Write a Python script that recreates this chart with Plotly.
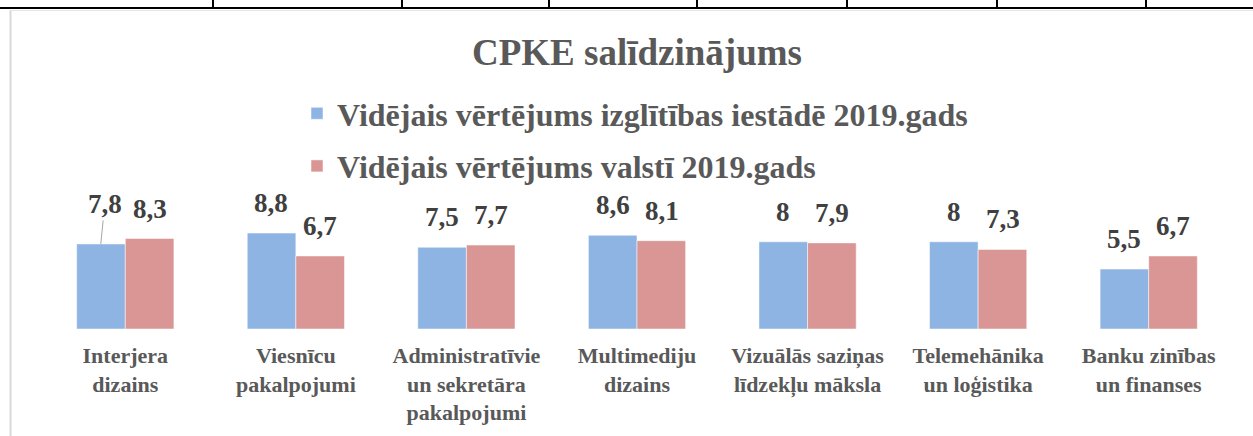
import plotly.graph_objects as go

categories = [
    "Interjera<br>dizains",
    "Viesnīcu<br>pakalpojumi",
    "Administratīvie<br>un sekretāra<br>pakalpojumi",
    "Multimediju<br>dizains",
    "Vizuālās saziņas<br>līdzekļu māksla",
    "Telemehānika<br>un loģistika",
    "Banku zinības<br>un finanses",
]
series_school = [7.8, 8.8, 7.5, 8.6, 8.0, 8.0, 5.5]
series_country = [8.3, 6.7, 7.7, 8.1, 7.9, 7.3, 6.7]
name_school = "Vidējais vērtējums izglītības iestādē 2019.gads"
name_country = "Vidējais vērtējums valstī 2019.gads"

def fmt(v):
    s = f"{v:g}"
    return s.replace(".", ",")

W, H = 1253, 436
L, R_, T, B = 40, 19, 190, 107
plot_h = H - T - B
ymax = plot_h / 10.9

SERIF = "Liberation Serif, Times New Roman, serif"
BLUE = "#8EB4E3"
RED = "#D99694"
GREY_TXT = "#595959"
LABEL_TXT = "#404040"

fig = go.Figure()
fig.add_trace(go.Bar(
    x=categories, y=series_school, name=name_school,
    marker=dict(color=BLUE, line=dict(color="rgba(255,255,255,0.5)", width=1)),
    legendgroup="a",
))
fig.add_trace(go.Bar(
    x=categories, y=series_country, name=name_country,
    marker=dict(color=RED, line=dict(color="rgba(255,255,255,0.5)", width=1)),
    legendgroup="b",
))

annotations = []
half = 24.5
lab_font = dict(family=SERIF, size=27, color=LABEL_TXT, weight="bold")
for i, cat in enumerate(categories):
    v = series_school[i]
    if i == 0:
        annotations.append(dict(
            x=cat, y=v, xref="x", yref="y", text=fmt(v),
            showarrow=True, arrowhead=0, arrowwidth=1, arrowcolor="#A6A6A6",
            ax=4, ay=-40, xshift=-half, standoff=0,
            font=lab_font,
        ))
    else:
        annotations.append(dict(
            x=cat, y=v, xref="x", yref="y", text=fmt(v), showarrow=False,
            xshift=-half, yshift=13, yanchor="bottom",
            font=lab_font,
        ))
    v2 = series_country[i]
    annotations.append(dict(
        x=cat, y=v2, xref="x", yref="y", text=fmt(v2), showarrow=False,
        xshift=half, yshift=13, yanchor="bottom",
        font=lab_font,
    ))

plot_w = W - L - R_

def px_x(px):
    return (px - L) / plot_w

def px_y(py):
    return (H - B - py) / plot_h

shapes = []
# document table border above chart
shapes.append(dict(type="line", xref="paper", yref="paper",
                   x0=px_x(0), x1=px_x(W), y0=px_y(8), y1=px_y(8),
                   line=dict(color="black", width=2)))
for vx in [213, 402, 549, 697, 847, 997, 1146]:
    shapes.append(dict(type="line", xref="paper", yref="paper",
                       x0=px_x(vx), x1=px_x(vx), y0=px_y(0), y1=px_y(8),
                       line=dict(color="black", width=2)))
# chart frame
shapes.append(dict(type="line", xref="paper", yref="paper",
                   x0=px_x(10.5), x1=px_x(10.5), y0=px_y(10), y1=px_y(H),
                   line=dict(color="#D9D9D9", width=2)))
shapes.append(dict(type="line", xref="paper", yref="paper",
                   x0=px_x(10), x1=px_x(W), y0=px_y(10.5), y1=px_y(10.5),
                   line=dict(color="#E6E6E6", width=1)))

fig.update_layout(
    width=W, height=H,
    margin=dict(l=L, r=R_, t=T, b=B, autoexpand=False),
    paper_bgcolor="white", plot_bgcolor="white",
    barmode="group", bargap=0.43, bargroupgap=0,
    title=dict(text="<b>CPKE salīdzinājums</b>", x=637 / W, xref="container", xanchor="center",
               y=1 - 52 / H, yref="container", yanchor="middle",
               font=dict(family=SERIF, size=37, color=GREY_TXT)),
    legend=dict(orientation="v", x=297 / W, xref="container", xanchor="left",
                y=1 - 86 / H, yref="container", yanchor="top",
                font=dict(family=SERIF, size=32, color=GREY_TXT, weight="bold"),
                tracegroupgap=8, bgcolor="rgba(0,0,0,0)"),
    xaxis=dict(showgrid=False, showline=False, zeroline=False, ticks="",
               tickfont=dict(family=SERIF, size=22, color=GREY_TXT, weight="bold"),
               tickangle=0, ticklabelstandoff=11, fixedrange=True),
    yaxis=dict(range=[0, ymax], visible=False, showgrid=False, zeroline=False, fixedrange=True),
    annotations=annotations,
    shapes=shapes,
    showlegend=True,
)

fig.write_html("out.html", config={"displayModeBar": False},
               post_script="document.body.style.margin='0';")
